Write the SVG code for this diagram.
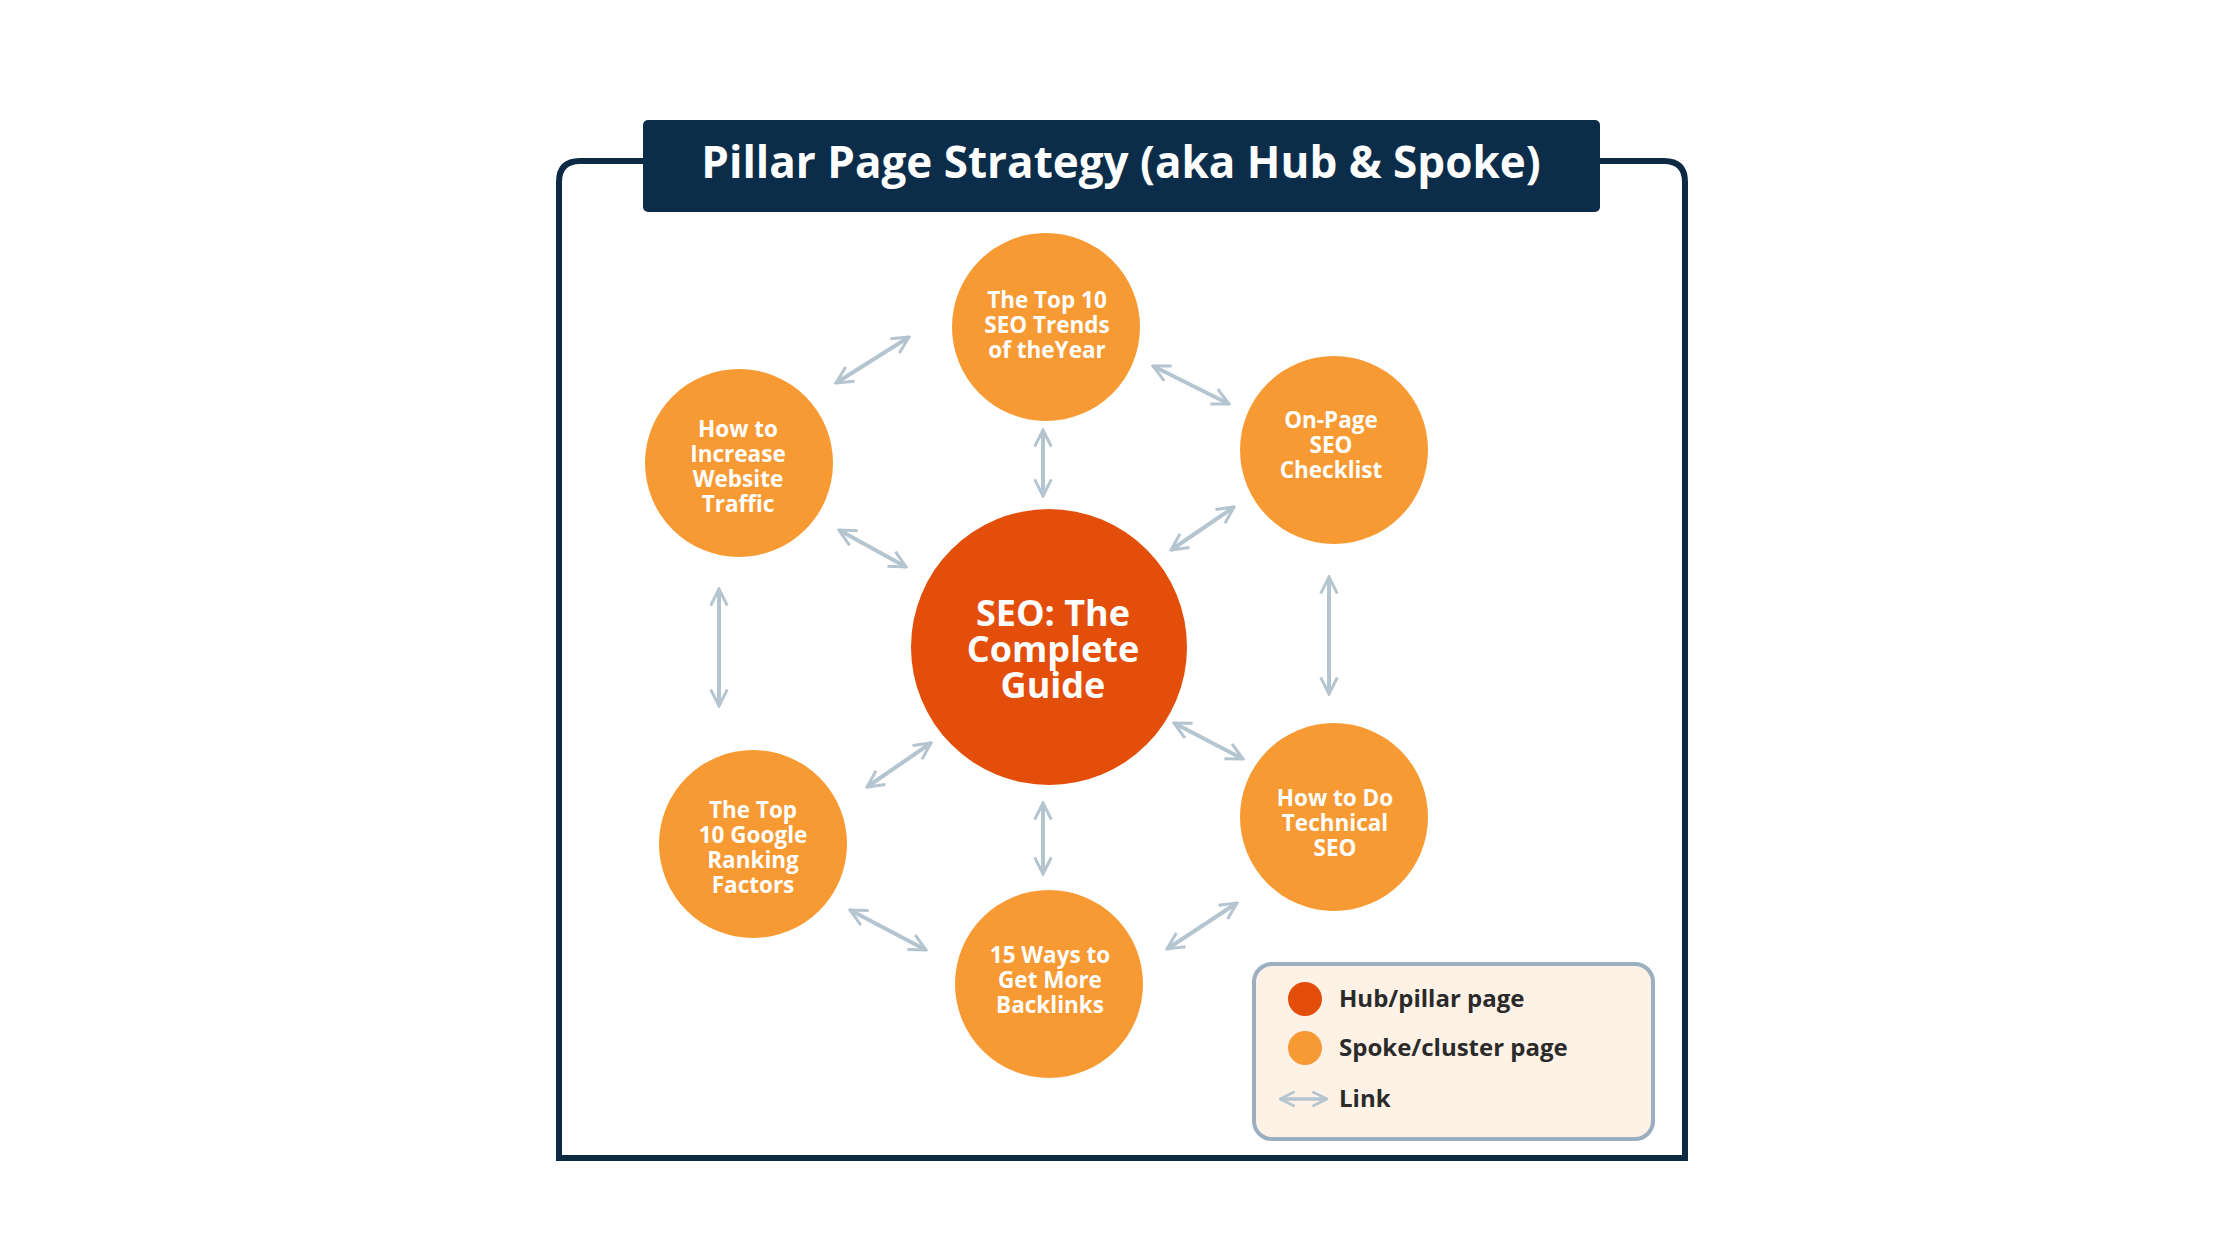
<svg xmlns="http://www.w3.org/2000/svg" width="2240" height="1260" viewBox="0 0 2240 1260">
<style>
.sp{fill:#f89a33}
.hub{fill:#e34e0a}
.t{font-family:"Open Sans","Liberation Sans",sans-serif;font-weight:700;fill:#fff;text-anchor:middle}
.st{font-size:22.5px}
.lk{stroke:#b5c5d0;stroke-width:4;fill:none;marker-start:url(#ah);marker-end:url(#ah)}
.lg{font-family:"Open Sans","Liberation Sans",sans-serif;font-weight:700;font-size:24px;fill:#2a2a2a}
</style>
<defs>
<marker id="ah" viewBox="0 0 12 12" refX="11" refY="6" markerWidth="5" markerHeight="5" orient="auto-start-reverse" markerUnits="strokeWidth">
<path d="M1,1 L11,6 L1,11" fill="none" stroke="#b5c5d0" stroke-width="1.8"/>
</marker>
</defs>
<rect width="2240" height="1260" fill="#fff"/>
<path d="M643,161 H580 Q559,161 559,182 V1158 H1685 V182 Q1685,161 1664,161 H1600" fill="none" stroke="#0d2a45" stroke-width="6"/>
<g id="title">
<rect x="643" y="120" width="957" height="92" rx="5" fill="#0b2d4a"/>
<text class="t" x="1121" y="178" font-size="44">Pillar Page Strategy (aka Hub &amp; Spoke)</text>
</g>
<g id="connectors">
<line class="lk" x1="836" y1="383" x2="909" y2="337"/>
<line class="lk" x1="1153" y1="366" x2="1229" y2="404"/>
<line class="lk" x1="1043" y1="430" x2="1043" y2="496"/>
<line class="lk" x1="839" y1="530" x2="906" y2="567"/>
<line class="lk" x1="1234" y1="507" x2="1171" y2="550"/>
<line class="lk" x1="1329" y1="577" x2="1329" y2="694"/>
<line class="lk" x1="719" y1="589" x2="719" y2="706"/>
<line class="lk" x1="1174" y1="723" x2="1243" y2="759"/>
<line class="lk" x1="931" y1="743" x2="867" y2="787"/>
<line class="lk" x1="1043" y1="803" x2="1043" y2="874"/>
<line class="lk" x1="850" y1="910" x2="926" y2="950"/>
<line class="lk" x1="1237" y1="903" x2="1167" y2="949"/>
</g>
<g id="hub">
<circle class="hub" cx="1049" cy="647" r="138"/>
<text class="t" x="1053" font-size="36"><tspan x="1053" y="626">SEO: The</tspan><tspan x="1053" y="662">Complete</tspan><tspan x="1053" y="698">Guide</tspan></text>
</g>
<g id="top">
<circle class="sp" cx="1046" cy="327" r="94"/>
<text class="t st"><tspan x="1047" y="308">The Top 10</tspan><tspan x="1047" y="333">SEO Trends</tspan><tspan x="1047" y="358">of theYear</tspan></text>
</g>
<g id="onpage">
<circle class="sp" cx="1334" cy="450" r="94"/>
<text class="t st"><tspan x="1331" y="428">On-Page</tspan><tspan x="1331" y="453">SEO</tspan><tspan x="1331" y="478">Checklist</tspan></text>
</g>
<g id="technical">
<circle class="sp" cx="1334" cy="817" r="94"/>
<text class="t st"><tspan x="1335" y="806">How to Do</tspan><tspan x="1335" y="831">Technical</tspan><tspan x="1335" y="856">SEO</tspan></text>
</g>
<g id="backlinks">
<circle class="sp" cx="1049" cy="984" r="94"/>
<text class="t st"><tspan x="1050" y="963">15 Ways to</tspan><tspan x="1050" y="988">Get More</tspan><tspan x="1050" y="1013">Backlinks</tspan></text>
</g>
<g id="google">
<circle class="sp" cx="753" cy="844" r="94"/>
<text class="t st"><tspan x="753" y="818">The Top</tspan><tspan x="753" y="843">10 Google</tspan><tspan x="753" y="868">Ranking</tspan><tspan x="753" y="893">Factors</tspan></text>
</g>
<g id="traffic">
<circle class="sp" cx="739" cy="463" r="94"/>
<text class="t st"><tspan x="738" y="437">How to</tspan><tspan x="738" y="462">Increase</tspan><tspan x="738" y="487">Website</tspan><tspan x="738" y="512">Traffic</tspan></text>
</g>
<g id="legend">
<rect x="1254" y="964" width="399" height="175" rx="18" fill="#fef1e6" stroke="#9aafbf" stroke-width="4"/>
<circle class="hub" cx="1305" cy="999" r="17"/>
<circle class="sp" cx="1305" cy="1048" r="17"/>
<line x1="1280" y1="1099" x2="1327" y2="1099" stroke="#b5c5d0" stroke-width="3.5" marker-start="url(#ah)" marker-end="url(#ah)"/>
<text class="lg" x="1339" y="1007">Hub/pillar page</text>
<text class="lg" x="1339" y="1056">Spoke/cluster page</text>
<text class="lg" x="1339" y="1107">Link</text>
</g>
</svg>
